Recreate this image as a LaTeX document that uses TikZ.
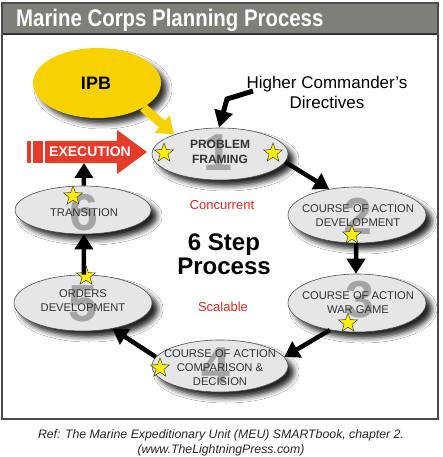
\documentclass[tikz,border=0pt]{standalone}
\usepackage{fontspec}
\setmainfont{Liberation Sans}
\usetikzlibrary{shapes.geometric,arrows.meta,shadows.blur}
\definecolor{titlegrey}{HTML}{7E7F79}
\definecolor{ipbyellow}{HTML}{F8D200}
\definecolor{ipbdark}{HTML}{D8B400}
\definecolor{execred}{HTML}{E63A2B}
\definecolor{staryellow}{HTML}{FFF000}
\definecolor{ellfill}{HTML}{E6E6E8}
\definecolor{elldraw}{HTML}{505050}
\definecolor{digitgrey}{HTML}{A4A4A4}
\definecolor{textdark}{HTML}{333333}
\definecolor{concred}{HTML}{E8261E}
\begin{document}
\begin{tikzpicture}[x=1pt,y=-1pt,
  ell/.style={ellipse, draw=elldraw, line width=0.6pt, fill=ellfill, inner sep=0pt,
    blur shadow={shadow xshift=6pt, shadow yshift=-6pt, shadow blur radius=5pt, shadow opacity=85}},
  digit/.style={text=digitgrey, font=\bfseries\fontsize{52}{52}\selectfont, inner sep=0pt},
  etext/.style={text=textdark, align=center, font=\fontsize{11.2}{14}\selectfont, inner sep=0pt},
  starry/.style={star, star points=5, star point ratio=2.4, minimum size=20pt, inner sep=0pt, fill=staryellow, draw=black!75, line width=0.5pt},
  conn/.style={line width=4.5pt, -{Triangle[length=15pt,width=18pt]}}
]
\useasboundingbox (0,0) rectangle (442,457);
% frame and title
\fill[white] (2,3) rectangle (438,419);
\fill[titlegrey] (2,3) rectangle (438,33);
\draw[line width=2pt, black!80] (2,34) -- (438,34);
\draw[line width=1.4pt, black!70] (2,3) rectangle (438,419);
\node[anchor=base west, text=white, inner sep=0pt] (title) at (16,27)
  {\scalebox{0.85}[1]{\bfseries\fontsize{24}{24}\selectfont Marine Corps Planning Process}};
% IPB
\node[ellipse, fill=ipbyellow, minimum width=128pt, minimum height=70pt, inner sep=0pt,
  blur shadow={shadow xshift=6pt, shadow yshift=-6pt, shadow blur radius=5pt, shadow opacity=80}] (ipb) at (97,83) {};
\node[font=\bfseries\fontsize{18}{18}\selectfont] (ipbt) at (96,83) {IPB};
% step ellipses
\node[ell, minimum width=136pt, minimum height=52pt] (pf) at (220,154) {};
\node[ell, minimum width=138pt, minimum height=56pt] (cd) at (357,215) {};
\node[ell, minimum width=138pt, minimum height=58pt] (wg) at (357,303) {};
\node[ell, minimum width=136pt, minimum height=52pt] (cc) at (220,366) {};
\node[ell, minimum width=138pt, minimum height=56pt] (od) at (83,303) {};
\node[ell, minimum width=136pt, minimum height=48pt] (tr) at (83,210) {};
% digits
\node[digit] (d1) at (218,153) {1};
\node[digit] (d2) at (358,216) {2};
\node[digit] (d3) at (360,300) {3};
\node[digit] (d4) at (216,366) {4};
\node[digit] (d5) at (83,304) {5};
\node[digit] (d6) at (84,213) {6};
% texts
\node[etext, font=\bfseries\fontsize{12}{15}\selectfont] (pft) at (220,152) {PROBLEM\\FRAMING};
\node[etext] (cdt) at (358,216) {COURSE OF ACTION\\DEVELOPMENT};
\node[etext] (wgt) at (358,303) {COURSE OF ACTION\\WAR GAME};
\node[etext] (cct) at (220,368) {COURSE OF ACTION\\COMPARISON \&\\DECISION};
\node[etext] (odt) at (83,301) {ORDERS\\DEVELOPMENT};
\node[etext] (trt) at (84,213) {TRANSITION};
% stars
\node[starry] (s1a) at (164,153) {};
\node[starry] (s1b) at (273,153) {};
\node[starry] (s2) at (352,235) {};
\node[starry] (s3) at (348,323) {};
\node[starry] (s4) at (160,368) {};
\node[starry] (s5) at (86,276) {};
\node[starry] (s6) at (73,196) {};
% execution arrow
\fill[execred] (27,141) rectangle (31,163);
\fill[execred] (33,141) rectangle (42.5,163);
\fill[execred] (45,141) -- (117,141) -- (117,130) -- (147,152) -- (117,174) -- (117,163) -- (45,163) -- cycle;
\node[text=white, font=\bfseries\fontsize{14}{14}\selectfont, inner sep=0pt] (exec) at (90,152) {EXECUTION};
\coordinate (execbot) at (84,163);
% connectors
\draw[conn] (pf.-7) -- (cd.137);
\draw[conn] (cd.-92) -- (wg.92);
\draw[conn] (wg.225) -- (cc.8);
\draw[conn] (cc.172) -- (od.-41);
\draw[conn] (od.88) -- (tr.-88);
\draw[conn] (tr.88) -- (execbot);
% yellow arrow IPB -> PF
\draw[line width=9pt, -{Triangle[length=16pt,width=22pt]}, color=ipbyellow] (ipb.-28) -- (pf.157);
% higher commander
\node[font=\fontsize{17}{20}\selectfont, align=center, inner sep=0pt] (hc) at (327,92) {Higher Commander’s\\Directives};
\coordinate (hcs) at (253,91);
\draw[line width=5pt, -{Triangle[length=17pt,width=18pt]}] (hcs) -- (227,99) -- (pf.92);
% centre texts
\node[text=concred, font=\fontsize{13}{13}\selectfont] (conc) at (222,205) {Concurrent};
\node[font=\bfseries\fontsize{24}{24}\selectfont, align=center, inner sep=0pt] (six) at (224,254) {6 Step\\Process};
\node[text=concred, font=\fontsize{13}{13}\selectfont] (scal) at (223,307) {Scalable};
% footer
\node[font=\itshape\fontsize{12.3}{14.5}\selectfont, align=center, text=black!85] (ref) at (221,443)
  {Ref: The Marine Expeditionary Unit (MEU) SMARTbook, chapter 2.\\(www.TheLightningPress.com)};
\end{tikzpicture}
\end{document}
